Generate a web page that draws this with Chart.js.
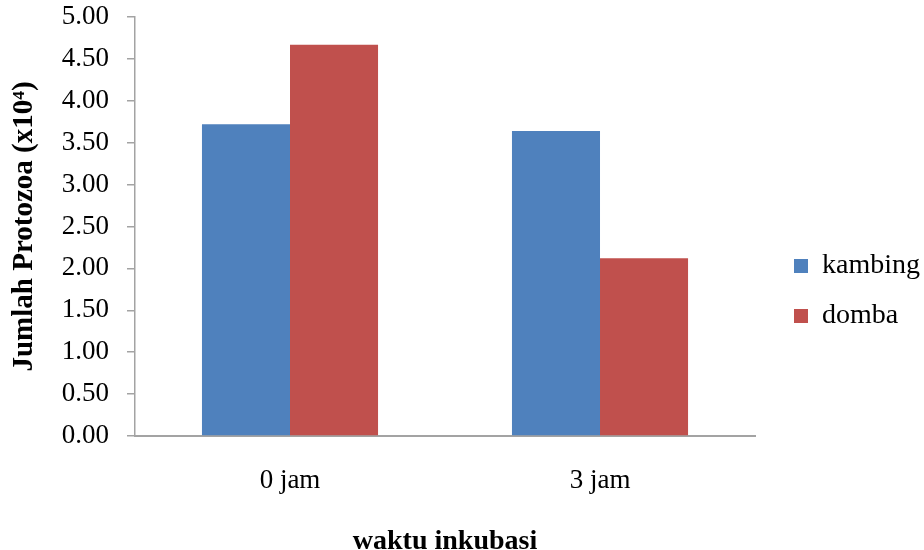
<!DOCTYPE html>
<html>
<head>
<meta charset="utf-8">
<title>Jumlah Protozoa</title>
<script src="https://cdn.jsdelivr.net/npm/chart.js@4.4.1/dist/chart.umd.min.js"></script>
<style>
  html, body { margin: 0; padding: 0; background: #fff; }
  canvas { display: block; }
</style>
</head>
<body>
<canvas id="protozoaChart" width="924" height="550"></canvas>
<script>
// data
const categories = ['0 jam', '3 jam'];
const kambingValues = [3.72, 3.64];
const dombaValues = [4.67, 2.12];
const seriesNames = ['kambing', 'domba'];
const yTicks = [0, 0.5, 1, 1.5, 2, 2.5, 3, 3.5, 4, 4.5, 5];

const FONT = "'Liberation Serif', 'Times New Roman', serif";
const AXIS_GREY = '#a3a3a3';

// nudge the legend a bit right and down, like the original
const legendShift = { x: 17, y: 16 };

const shiftLegend = {
    id: 'shiftLegend',
    afterLayout(chart) {
        const lg = chart.legend;
        if (!lg) return;
        lg.left += legendShift.x;
        lg.right += legendShift.x;
        lg.top += legendShift.y;
        lg.bottom += legendShift.y;
    }
};

const ctx = document.getElementById('protozoaChart').getContext('2d');

new Chart(ctx, {
    type: 'bar',
    data: {
        labels: categories,
        datasets: [
            {
                label: seriesNames[0],
                data: kambingValues,
                backgroundColor: '#4F81BD',
                borderWidth: 0
            },
            {
                label: seriesNames[1],
                data: dombaValues,
                backgroundColor: '#C0504D',
                borderWidth: 0
            }
        ]
    },
    options: {
        responsive: false,
        animation: false,
        devicePixelRatio: 1,
        layout: { padding: { top: 0, right: 11, bottom: 0, left: 0 } },
        datasets: {
            bar: { categoryPercentage: 0.568, barPercentage: 1.0 }
        },
        scales: {
            x: {
                grid: { display: false, drawTicks: false },
                border: { display: true, color: AXIS_GREY, width: 2 },
                ticks: {
                    color: '#000',
                    padding: 29,
                    font: { family: FONT, size: 27 }
                },
                title: {
                    display: true,
                    text: 'waktu inkubasi',
                    color: '#000',
                    font: { family: FONT, size: 28, weight: 'bold', lineHeight: 0.9 },
                    padding: { top: 0, bottom: -4 }
                },
                afterFit: scale => { scale.height = 114; }
            },
            y: {
                min: 0,
                max: 5,
                afterBuildTicks: scale => {
                    scale.ticks = yTicks.map(v => ({ value: v }));
                },
                grid: {
                    drawOnChartArea: false,
                    drawTicks: true,
                    tickLength: 8,
                    color: AXIS_GREY,
                    lineWidth: 1.5
                },
                border: { display: true, color: AXIS_GREY, width: 1.5 },
                ticks: {
                    color: '#000',
                    padding: 18,
                    font: { family: FONT, size: 27 },
                    callback: v => Number(v).toFixed(2)
                },
                title: {
                    display: true,
                    text: 'Jumlah Protozoa (x10⁴)',
                    color: '#000',
                    font: { family: FONT, size: 29, weight: 'bold' },
                    padding: { top: 7, bottom: 0 }
                },
                afterFit: scale => {
                    scale.width = 135;
                    scale.paddingTop = 17;
                    scale.paddingBottom = 17;
                }
            }
        },
        plugins: {
            legend: {
                position: 'right',
                labels: {
                    color: '#000',
                    boxWidth: 14,
                    boxHeight: 14,
                    padding: 22,
                    font: { family: FONT, size: 28 }
                }
            },
            tooltip: { enabled: false }
        }
    },
    plugins: [shiftLegend]
});
</script>
</body>
</html>
